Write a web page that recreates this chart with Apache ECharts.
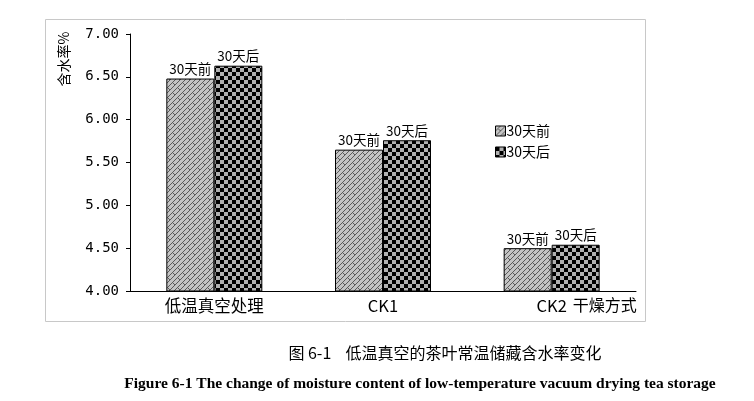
<!DOCTYPE html>
<html><head><meta charset="utf-8">
<script src="https://cdn.jsdelivr.net/npm/echarts@6/dist/echarts.min.js"></script>
<style>html,body{margin:0;padding:0;background:#fff}#c{width:754px;height:401px}</style>
</head><body><div id="c"></div>
<script>
var categories = ['低温真空处理', 'CK1', 'CK2'];
var seriesNames = ['30天前', '30天后'];
var before = [6.48, 5.65, 4.50];
var after = [6.63, 5.76, 4.54];
var yTicks = [4.0, 7.0, 0.5];

function weave() {
  var c = document.createElement('canvas'); c.width = 10; c.height = 10;
  var g = c.getContext('2d');
  g.fillStyle = '#c4c4c4'; g.fillRect(0, 0, 10, 10);
  g.strokeStyle = '#5a5a5a'; g.lineWidth = 1;
  g.beginPath();
  g.moveTo(-1, 11); g.lineTo(11, -1);
  g.moveTo(-1, 6); g.lineTo(6, -1);
  g.moveTo(4, 11); g.lineTo(11, 4);
  g.moveTo(2.5, 2.5); g.lineTo(5, 5);
  g.moveTo(7.5, 7.5); g.lineTo(10, 10);
  g.stroke();
  return c;
}
function checker() {
  var c = document.createElement('canvas'); c.width = 8; c.height = 8;
  var g = c.getContext('2d');
  g.fillStyle = '#b0b0b0'; g.fillRect(0, 0, 8, 8);
  g.fillStyle = '#000'; g.fillRect(0, 0, 4, 4); g.fillRect(4, 4, 4, 4);
  return c;
}
var pats = [{image: weave(), repeat: 'repeat'}, {image: checker(), repeat: 'repeat'}];
var dataSets = [before, after];

var chart = echarts.init(document.getElementById('c'), null, {renderer: 'canvas'});
chart.setOption({
  backgroundColor: '#fff',
  animation: false,
  title: [
    {text: '图 6-1    低温真空的茶叶常温储藏含水率变化', left: 440, top: 340, textAlign: 'center',
     textStyle: {fontFamily: 'Noto Sans CJK SC', fontSize: 16, fontWeight: 'normal', color: '#000'}},
    {text: 'Figure 6-1 The change of moisture content of low-temperature vacuum drying tea storage', left: 415, top: 371, textAlign: 'center',
     textStyle: {fontFamily: 'Liberation Serif', fontSize: 15.5, fontWeight: 'bold', color: '#000'}}
  ],
  graphic: [
    {type: 'rect', shape: {x: 45.5, y: 19.5, width: 600, height: 302}, style: {fill: 'none', stroke: '#c8c8c8', lineWidth: 1}, z: -1},
    {type: 'text', x: 64, y: 59, rotation: Math.PI / 2,
     style: {text: '含水率%', fontFamily: 'Noto Sans CJK SC', fontSize: 14, fill: '#000', align: 'center', verticalAlign: 'middle'}}
  ],
  legend: {
    left: 490, top: 119, orient: 'vertical', itemWidth: 10, itemHeight: 10, itemGap: 7,
    textStyle: {fontFamily: 'Noto Sans CJK SC', fontSize: 14, color: '#000', padding: [0, 0, 0, -4]},
    data: seriesNames.map(function (n, i) { return {name: n, icon: 'rect', itemStyle: {color: pats[i], borderColor: '#000', borderWidth: 1}}; })
  },
  grid: {left: 130, right: 118, top: 34, bottom: 110},
  xAxis: {
    type: 'category', data: categories,
    name: '干燥方式', nameLocation: 'end', nameGap: 0,
    nameTextStyle: {fontFamily: 'Noto Sans CJK SC', fontSize: 16, color: '#000', align: 'right', verticalAlign: 'top', padding: [6, 0, 0, 0]},
    axisLine: {lineStyle: {color: '#000', width: 1}},
    axisTick: {inside: true, length: 4, lineStyle: {color: '#000'}},
    axisLabel: {margin: 6, fontFamily: 'Noto Sans CJK SC', fontSize: 16.5, color: '#000'}
  },
  yAxis: {
    type: 'value', min: yTicks[0], max: yTicks[1], interval: yTicks[2],
    axisLine: {show: true, lineStyle: {color: '#000', width: 1}},
    axisTick: {show: true, length: 4, lineStyle: {color: '#000'}},
    splitLine: {show: false},
    axisLabel: {margin: 11, fontFamily: 'DejaVu Sans Mono', fontSize: 14, color: '#000',
      formatter: function (v) { return v.toFixed(2); }}
  },
  series: seriesNames.map(function (n, i) {
    return {
      name: n, type: 'bar', data: dataSets[i], barWidth: 48, barGap: '0%',
      itemStyle: {color: pats[i], borderColor: '#000', borderWidth: 1},
      label: {show: true, position: 'top', distance: 3, formatter: n,
        fontFamily: 'Noto Sans CJK SC', fontSize: 13.5, color: '#000'}
    };
  })
});
</script></body></html>
